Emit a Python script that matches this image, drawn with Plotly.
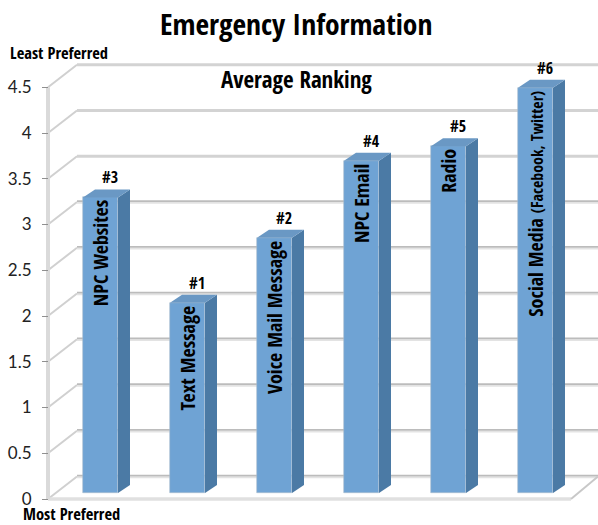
import plotly.graph_objects as go

categories = ["<b>NPC Websites</b>", "<b>Text Message</b>", "<b>Voice Mail Message</b>", "<b>NPC Email</b>", "<b>Radio</b>",
              'Social Media <span style="font-size:16px">(Facebook, Twitter)</span>']
values = [3.23, 2.08, 2.79, 3.63, 3.79, 4.43]
ranks = ["#3", "#1", "#2", "#4", "#5", "#6"]
tick_vals = [0, 0.5, 1, 1.5, 2, 2.5, 3, 3.5, 4, 4.5]
tick_text = ["0", "0.5", "1", "1.5", "2", "2.5", "3", "3.5", "4", "4.5"]

NARROW = "Open Sans Condensed"
W, H = 598, 525
X_UNIT, Y_UNIT = 87.0, 91.5      # pixels per category step / per value unit
X0_PX, Y0_PX = 100.5, 499.0      # pixel of first bar centre / of the front-plane zero
BAR_W = 35 / X_UNIT
WALL_X = (48 - X0_PX) / X_UNIT
FLOOR_R = (571 - X0_PX) / X_UNIT
RIGHT = (W - X0_PX) / X_UNIT
DEPTH_X, DEPTH_Y = 29 / X_UNIT, 22.5 / Y_UNIT       # wall depth
BASE = 6 / Y_UNIT                                   # bars stand a little behind the front
SIDE_X, SIDE_Y = 12 / X_UNIT, 8 / Y_UNIT            # bar depth
FRONT, SIDE, TOP = "#6fa3d4", "#4b7aa5", "#6a98c4"

positions = list(range(len(categories)))
fig = go.Figure()

fig.add_bar(x=positions, y=values, base=[BASE] * len(values), width=BAR_W,
            marker=dict(color=FRONT, line=dict(color="#a9bccd", width=0.6)),
            text=categories, textposition="inside", insidetextanchor="end",
            textangle=-90, constraintext="none",
            insidetextfont=dict(family=NARROW, size=20, color="#000000"),
            hoverinfo="skip", showlegend=False)

for p, v in zip(positions, values):
    l, r = p - BAR_W / 2, p + BAR_W / 2
    t = BASE + v
    fig.add_scatter(x=[r, r + SIDE_X, r + SIDE_X, r, r], y=[BASE, BASE + SIDE_Y, t + SIDE_Y, t, BASE],
                    mode="lines", fill="toself", fillcolor=SIDE, line=dict(width=0),
                    hoverinfo="skip", showlegend=False)
    fig.add_scatter(x=[l, r, r + SIDE_X, l + SIDE_X, l], y=[t, t, t + SIDE_Y, t + SIDE_Y, t],
                    mode="lines", fill="toself", fillcolor=TOP, line=dict(width=0),
                    hoverinfo="skip", showlegend=False)

shapes = []
def line(x0, y0, x1, y1, color, width):
    shapes.append(dict(type="line", xref="x", yref="y", x0=x0, y0=y0, x1=x1, y1=y1,
                       layer="below", line=dict(color=color, width=width)))

HALF_PX = 0.8 / Y_UNIT
for v in tick_vals:
    back_x, back_y = WALL_X + DEPTH_X, v + DEPTH_Y
    line(WALL_X, v, back_x, back_y, "#d0d0d0", 2)
    if v >= 3.5:
        line(back_x, back_y, RIGHT, back_y, "#d3d3d3", 3)
    else:
        line(back_x, back_y - HALF_PX, RIGHT, back_y - HALF_PX, "#e3e3e3", 1.8)
        line(back_x, back_y + HALF_PX, RIGHT, back_y + HALF_PX, "#bcbcbc", 1.8)
line(WALL_X, 0, FLOOR_R, 0, "#e0e0e0", 3.5)
line(FLOOR_R, 0, RIGHT, DEPTH_Y, "#c8c8c8", 2)
line(WALL_X, 0, WALL_X, tick_vals[-1], "#dadada", 4)
fig.update_layout(shapes=shapes)

annotations = [dict(x=p + 0.11, y=BASE + v + SIDE_Y, text=f"<b>{r}</b>", showarrow=False, yanchor="bottom", yshift=-1,
                    font=dict(family=NARROW, size=16, color="#000000"))
               for p, v, r in zip(positions, values, ranks)]
def paper_text(px, py, text, size, bold=True, anchor="center"):
    annotations.append(dict(xref="paper", yref="paper", x=px / W, y=1 - py / H, text=f"<b>{text}</b>" if bold else text,
                            showarrow=False, xanchor=anchor, yanchor="middle",
                            font=dict(family=NARROW, size=size, color="#000000")))
paper_text(296, 24, "Emergency Information", 29.5)
paper_text(8, 52, "Least Preferred", 16.5, anchor="left")
paper_text(296, 79, "Average Ranking", 23, bold=False)
paper_text(21, 513, "Most Preferred", 16.5, anchor="left")

fig.update_layout(
    width=W, height=H, margin=dict(l=0, r=0, t=0, b=0, autoexpand=False), paper_bgcolor="white", plot_bgcolor="white",
    annotations=annotations, showlegend=False, bargap=0,
    xaxis=dict(range=[-X0_PX / X_UNIT, (W - X0_PX) / X_UNIT], visible=False),
    yaxis=dict(range=[(Y0_PX - H) / Y_UNIT, Y0_PX / Y_UNIT], tickvals=tick_vals, ticktext=tick_text,
               showgrid=False, zeroline=False, showline=False, anchor="free", position=48 / W,
               automargin=False,
               ticks="outside", ticklen=6, tickcolor="#8f8f8f", tickwidth=1, ticklabelstandoff=7,
               tickfont=dict(family="Lato", size=17, color="#222222")),
)
fig.write_html("out.html", config=dict(displayModeBar=False), post_script="document.body.style.margin='0';")
